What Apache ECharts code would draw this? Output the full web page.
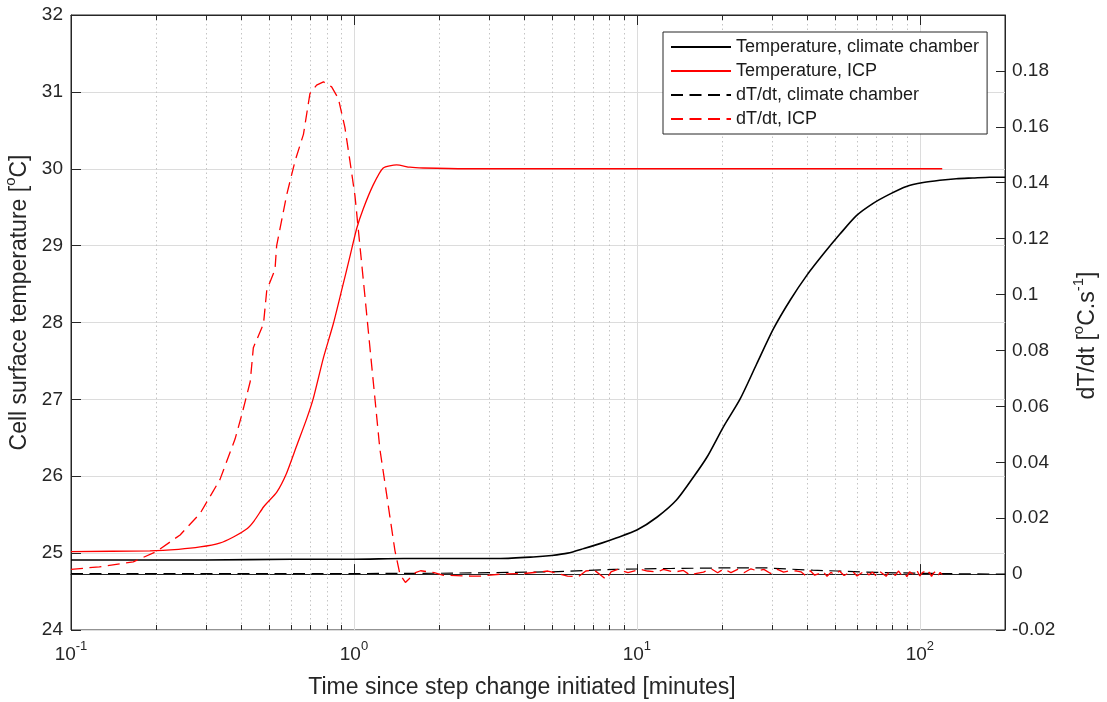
<!DOCTYPE html>
<html>
<head>
<meta charset="utf-8">
<script src="https://cdn.jsdelivr.net/npm/echarts@6/dist/echarts.min.js"></script>
<style>
html,body{margin:0;padding:0;background:#fff;}
#chart{width:1107px;height:702px;}
</style>
</head>
<body>
<div id="chart"></div>
<script>
// ---------- data ----------
const seriesNames = ['Temperature, climate chamber', 'Temperature, ICP', 'dT/dt, climate chamber', 'dT/dt, ICP'];

const climateTempTime = [0.1, 0.3, 0.6, 1.0, 1.5, 2.5, 3.3, 4.3, 5.0, 5.7, 6.5, 7.5, 8.5, 10, 11.8, 13.8, 15.85, 17.7, 20.2, 23.2, 26.5, 30.4, 34.8, 39.8, 45.6, 52.2, 59.7, 68.4, 78.3, 89.7, 102.8, 117.7, 134.6, 154, 176.6, 200];
const climateTemp     = [24.91, 24.91, 24.92, 24.92, 24.93, 24.93, 24.93, 24.95, 24.97, 25.00, 25.06, 25.13, 25.20, 25.30, 25.47, 25.69, 25.99, 26.25, 26.64, 27.01, 27.46, 27.92, 28.29, 28.61, 28.89, 29.15, 29.39, 29.55, 29.67, 29.77, 29.82, 29.85, 29.87, 29.88, 29.89, 29.89];

const icpTempTime = [0.1, 0.19, 0.24, 0.286, 0.335, 0.375, 0.42, 0.444, 0.479, 0.495, 0.533, 0.578, 0.628, 0.681, 0.718, 0.78, 0.845, 0.905, 0.968, 1.022, 1.079, 1.17, 1.269, 1.415, 1.577, 1.757, 2.5, 5, 10, 30, 60, 120];
const icpTemp     = [25.02, 25.03, 25.05, 25.08, 25.13, 25.21, 25.32, 25.42, 25.60, 25.66, 25.79, 26.04, 26.40, 26.75, 27.01, 27.54, 27.98, 28.42, 28.86, 29.22, 29.48, 29.79, 30.01, 30.05, 30.02, 30.01, 30.00, 30.00, 30.00, 30.00, 30.00, 30.00];

const climateRateTime = [0.1, 0.3, 1, 2, 3, 5, 8.3, 13.2, 19.8, 28.8, 34.4, 41.8, 50.9, 70, 100, 140, 200];
const climateRate     = [0.0002, 0.0002, 0.0002, 0.0003, 0.0005, 0.0008, 0.0017, 0.0020, 0.0022, 0.0022, 0.0018, 0.0014, 0.0011, 0.0006, 0.0003, 0.0001, 0.0];

const icpRateTime = [0.1, 0.126, 0.166, 0.2, 0.243, 0.286, 0.336, 0.38, 0.401, 0.43, 0.441, 0.479, 0.492, 0.526, 0.533, 0.578, 0.619, 0.663, 0.699, 0.738, 0.78, 0.834, 0.881, 0.929, 0.968, 1.008, 1.05, 1.094, 1.139, 1.186, 1.235, 1.287, 1.34, 1.396, 1.454,
  1.52, 1.65, 1.72, 1.92, 2.06, 2.59, 2.81, 3.31, 4.0, 4.84, 5.25, 5.69, 6.2, 6.6, 7.05, 7.46, 7.8, 8.1, 8.55, 9.3, 10.3, 10.9, 11.8, 12.4, 13.5, 14.6, 15.5, 16.1, 17.2, 18.3, 19.3, 20.3, 21.5, 22.7, 23.9, 25.3, 26.7, 28.1, 29.7, 31.4, 33.0, 34.9, 36.8,
  38, 39.5, 41, 42.5, 44, 45.5, 47, 48.5, 50, 52, 54, 56, 58, 60, 62, 64, 66, 68, 70, 72, 74, 76, 78, 80, 82, 84, 86, 88, 90, 92, 94, 96, 98, 100, 102, 104, 106, 108, 110, 112, 114, 116, 118, 120];
const icpRate     = [0.0017, 0.0026, 0.0044, 0.0080, 0.0140, 0.0217, 0.0338, 0.0483, 0.0568, 0.0689, 0.0810, 0.0895, 0.1016, 0.1089, 0.1174, 0.1355, 0.1477, 0.1573, 0.1719, 0.1749, 0.1761, 0.1743, 0.1701, 0.1598, 0.1477, 0.1355, 0.1174, 0.0992, 0.0810, 0.0629, 0.0447, 0.0326, 0.0205, 0.0084, -0.0001,
  -0.0030, 0.0005, 0.0012, 0.0005, -0.0004, -0.0007, -0.0007, 0.0000, 0.0002, 0.0011, 0.0002, -0.0007, -0.0010, 0.0011, 0.0015, -0.0004, -0.0020, 0.0008, 0.0017, 0.0005, 0.0017, 0.0011, 0.0007, 0.0017, 0.0007, 0.0013, -0.0005, 0.0002, 0.0007, 0.0019, 0.0005, 0.0019, 0.0005, 0.0017, 0.0005, 0.0019, 0.0011, 0.0017, 0.0002, 0.0017, 0.0007, 0.0013, 0.0011,
  0.0008, -0.0006, 0.0012, -0.0004, 0.0002, 0.0010, -0.0008, 0.0006, -0.0002, 0.0011, -0.0005, 0.0004, 0.0009, -0.0007, 0.0003, 0.0012, -0.0003, 0.0007, -0.0006, 0.0010, 0.0001, -0.0008, 0.0009, 0.0004, -0.0005, 0.0011, -0.0002, 0.0006, -0.0009, 0.0008, 0.0002, -0.0004, 0.0010, -0.0007, 0.0005, 0.0009, -0.0003, 0.0007, -0.0008, 0.0004, 0.0011, -0.0005, 0.0006, -0.0002];

// axis settings
const xMin = 0.1, xMax = 200;
const yLeftMin = 24, yLeftMax = 32, yLeftStep = 1;
const yRightMin = -0.02, yRightMax = 0.2, yRightStep = 0.02;
const minorGridValues = [0.2,0.3,0.4,0.5,0.6,0.7,0.8,0.9, 2,3,4,5,6,7,8,9, 20,30,40,50,60,70,80,90];

// ---------- chart ----------
const FONT = '"Liberation Sans", Arial, Helvetica, sans-serif';
const AX = '#262626';
const zip = (a, b) => a.map((v, i) => [v, b[i]]);

const chart = echarts.init(document.getElementById('chart'), null, {renderer: 'canvas'});

const supRich = {
  b: {fontSize: 19, fontFamily: FONT, color: AX},
  s: {fontSize: 13, fontFamily: FONT, color: AX, padding: [0, 0, 16, 0]}
};
const nameRich = {
  b: {fontSize: 23, fontFamily: FONT, color: AX},
  s: {fontSize: 15, fontFamily: FONT, color: AX, padding: [0, 0, 18, 0]}
};

const option = {
  animation: false,
  backgroundColor: '#fff',
  grid: {left: 71, right: 102, top: 15, bottom: 72, containLabel: false, outerBoundsMode: 'none',
         show: true, borderColor: AX, borderWidth: 1, backgroundColor: 'transparent'},
  legend: {
    data: seriesNames,
    orient: 'vertical',
    left: 663, top: 32,
    itemWidth: 60, itemHeight: 14, itemGap: 6,
    padding: [6, 8, 6, 7],
    borderColor: AX, borderWidth: 1, backgroundColor: '#fff',
    itemStyle: {opacity: 0},
    textStyle: {fontSize: 18, color: '#1a1a1a', fontFamily: FONT}
  },
  xAxis: [{
    type: 'log', logBase: 10, min: xMin, max: xMax,
    position: 'bottom',
    name: 'Time since step change initiated [minutes]',
    nameLocation: 'middle', nameGap: 46,
    nameTextStyle: {fontSize: 23, fontFamily: FONT, color: AX, padding: [0, 32, 0, 0]},
    axisLine: {show: true, lineStyle: {color: AX, width: 1}},
    axisTick: {show: true, inside: true, length: 10, lineStyle: {color: AX}},
    axisLabel: {
      margin: 10,
      formatter: v => {
        const l = Math.log10(v), e = Math.round(l);
        if (Math.abs(l - e) > 1e-6) return '';
        return '{b|10}{s|' + e + '}';
      },
      rich: supRich
    },
    splitLine: {show: true, lineStyle: {color: '#dcdcdc', width: 1}},
    minorTick: {show: false}
  }, {
    type: 'log', logBase: 10, min: xMin, max: xMax,
    position: 'top',
    axisLine: {show: true, lineStyle: {color: AX, width: 1}},
    axisTick: {show: true, inside: true, length: 10, lineStyle: {color: AX}},
    axisLabel: {show: false},
    splitLine: {show: false}
  }],
  yAxis: [{
    type: 'value', min: yLeftMin, max: yLeftMax, interval: yLeftStep,
    position: 'left',
    name: '{b|Cell surface temperature [}{s|o}{b|C]}',
    nameLocation: 'middle', nameGap: 34,
    nameTextStyle: {rich: nameRich, padding: [0, 0, 0, 40]},
    axisLine: {show: true, lineStyle: {color: AX, width: 1}},
    axisTick: {show: true, inside: true, length: 10, lineStyle: {color: AX}},
    axisLabel: {margin: 8, fontSize: 19, fontFamily: FONT, color: AX},
    splitLine: {show: true, lineStyle: {color: '#dcdcdc', width: 1}}
  }, {
    type: 'value', min: yRightMin, max: yRightMax, interval: yRightStep,
    position: 'right',
    name: '{b|dT/dt [}{s|o}{b|C.s}{s|-1}{b|]}',
    nameLocation: 'middle', nameGap: 66,
    nameRotate: 90,
    nameTextStyle: {rich: nameRich, padding: [0, 26, 0, 0]},
    axisLine: {show: true, lineStyle: {color: AX, width: 1}},
    axisTick: {show: true, inside: true, length: 9, lineStyle: {color: AX}},
    axisLabel: {
      margin: 7, fontSize: 19, fontFamily: FONT, color: AX,
      formatter: v => (v > 0.195 ? '' : String(+v.toFixed(2)))
    },
    splitLine: {show: false}
  }],
  series: [
    {
      name: 'minorGrid', type: 'custom', xAxisIndex: 0, yAxisIndex: 0, silent: true, z: 1,
      data: minorGridValues.map(v => [v, yLeftMin]),
      renderItem: (params, api) => {
        const x = Math.round(api.coord([api.value(0), yLeftMin])[0]) + 0.5;
        const cs = params.coordSys;
        const top = cs.y, bot = cs.y + cs.height;
        return {type: 'group', children: [
          {type: 'line', shape: {x1: x, y1: top, x2: x, y2: bot}, style: {stroke: '#c4c4c4', lineWidth: 1, lineDash: [1.5, 3]}},
          {type: 'line', shape: {x1: x, y1: bot, x2: x, y2: bot - 5}, style: {stroke: AX, lineWidth: 1}},
          {type: 'line', shape: {x1: x, y1: top, x2: x, y2: top + 5}, style: {stroke: AX, lineWidth: 1}}
        ]};
      }
    },
    {
      name: seriesNames[0], type: 'line', xAxisIndex: 0, yAxisIndex: 0,
      data: zip(climateTempTime, climateTemp), symbol: 'none', smooth: 0.25,
      lineStyle: {color: '#000', width: 1.6}, itemStyle: {color: '#000'}
    },
    {
      name: seriesNames[1], type: 'line', xAxisIndex: 0, yAxisIndex: 0,
      data: zip(icpTempTime, icpTemp), symbol: 'none', smooth: 0.2,
      lineStyle: {color: '#ff0000', width: 1.3}, itemStyle: {color: '#ff0000'}
    },
    {
      name: seriesNames[2], type: 'line', xAxisIndex: 0, yAxisIndex: 1,
      data: zip(climateRateTime, climateRate), symbol: 'none',
      lineStyle: {color: '#000', width: 1.2, type: [12, 6.5]}, itemStyle: {color: '#000'}
    },
    {
      name: seriesNames[3], type: 'line', xAxisIndex: 0, yAxisIndex: 1,
      data: zip(icpRateTime, icpRate), symbol: 'none',
      lineStyle: {color: '#ff0000', width: 1.3, type: [12, 6.5]}, itemStyle: {color: '#ff0000'}
    }
  ]
};
chart.setOption(option);
</script>
</body>
</html>
